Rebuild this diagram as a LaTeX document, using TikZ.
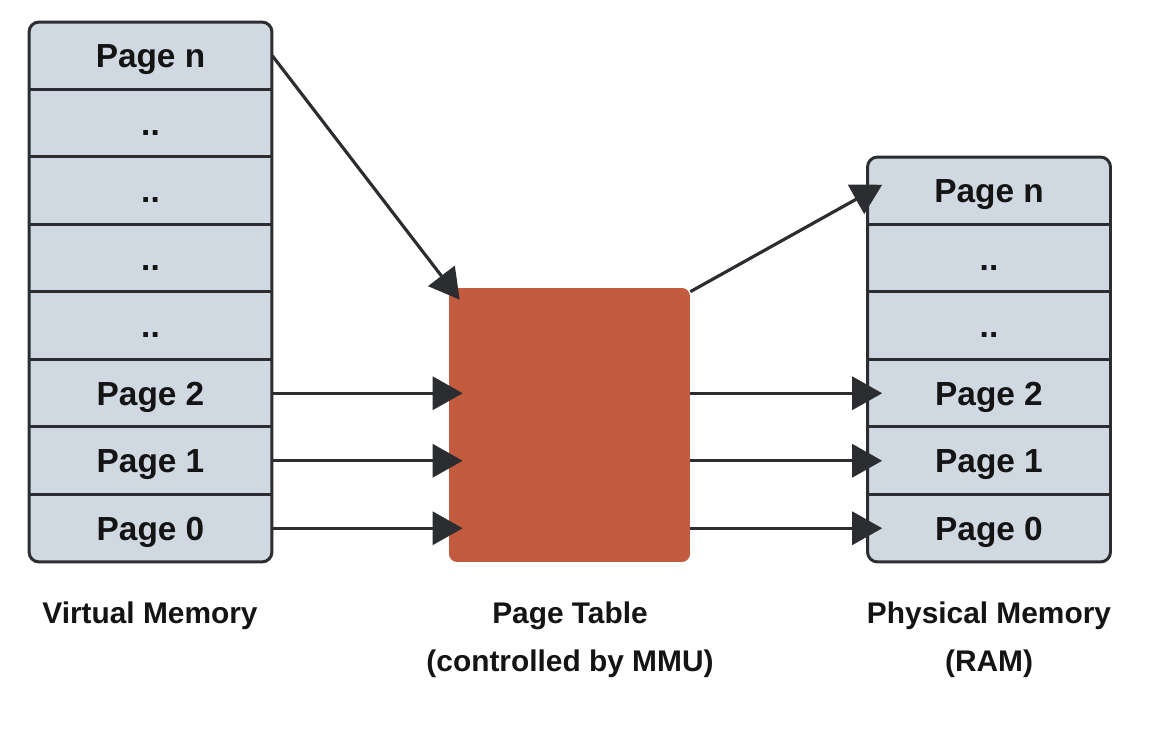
\documentclass[tikz,border=0pt]{standalone}
\usepackage{fontspec}
\setmainfont{Liberation Sans}
\usepackage{xcolor}
\usetikzlibrary{arrows.meta,positioning,calc}

\definecolor{pagefill}{HTML}{D0D9E1}
\definecolor{pageline}{HTML}{2B2D30}
\definecolor{tablefill}{HTML}{C35B3F}
\definecolor{inktext}{HTML}{141414}

\tikzset{
    stackframe/.style={rectangle,draw=pageline,line width=1.7pt,fill=pagefill,rounded corners=0.2cm,minimum width=4.86cm},
    rowbox/.style={rectangle,minimum width=4.86cm,minimum height=1.35cm,inner sep=0pt,text height=13.6pt,text depth=0pt,text=inktext,font=\fontsize{19}{23}\selectfont\bfseries},
    tablebox/.style={rectangle,fill=tablefill,rounded corners=0.16cm,minimum width=4.82cm,minimum height=5.48cm},
    arr/.style={-{Triangle[length=0.6cm,width=0.66cm]},line width=1.8pt,draw=pageline},
    caption/.style={align=center,anchor=north,text=inktext,font=\fontsize{17}{27}\selectfont\bfseries}
}

\begin{document}
\begin{tikzpicture}[x=0.02cm,y=-0.02cm]
    \useasboundingbox (0,0) rectangle (1152,736);

    % virtual memory
    \node[stackframe,minimum height=10.8cm] (vframe) at (150.5,292) {};
    \foreach \i/\t in {0/Page n,1/..,2/..,3/..,4/..,5/Page 2,6/Page 1,7/Page 0}
        \node[rowbox] (vrow\i) at (150.5,55.75+67.5*\i) {\t};
    \foreach \i in {1,...,7}
        \draw[pageline,line width=1.7pt] (vrow\i.north west) -- (vrow\i.north east);

    % physical memory
    \node[stackframe,minimum height=8.1cm] (pframe) at (989,359.5) {};
    \foreach \i/\t in {0/Page n,1/..,2/..,3/Page 2,4/Page 1,5/Page 0}
        \node[rowbox] (prow\i) at (989,190.75+67.5*\i) {\t};
    \foreach \i in {1,...,5}
        \draw[pageline,line width=1.7pt] (prow\i.north west) -- (prow\i.north east);

    % page table
    \node[tablebox] (tbl) at (569.5,425) {};

    % mappings
    \draw[arr] (vrow0.east) -- ($(tbl.north west)+(11,12)$);
    \foreach \i in {5,6,7}
        \draw[arr] (vrow\i.east) -- ($(vrow\i.east -| tbl.west)+(14,0)$);
    \draw[arr] ($(tbl.north east)+(0,4)$) -- ($(prow0.west)+(15,-6)$);
    \foreach \i in {3,4,5}
        \draw[arr] (tbl.east |- prow\i) -- ($(prow\i.west)+(15,0)$);

    % captions
    \node[caption] (lblv) at (150,596) {Virtual Memory};
    \node[caption] (lblt) at (570,596) {Page Table\\(controlled by MMU)};
    \node[caption] (lblp) at (989,596) {Physical Memory\\(RAM)};
\end{tikzpicture}
\end{document}
